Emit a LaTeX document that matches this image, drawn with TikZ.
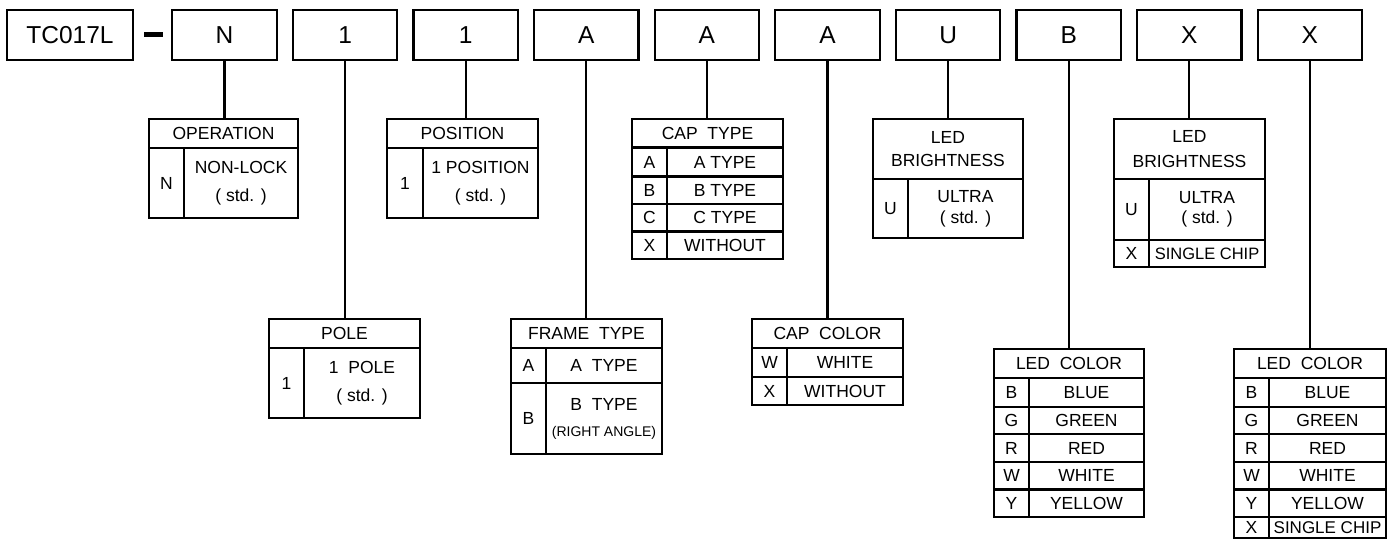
\documentclass[tikz,border=0pt]{standalone}
\usepackage{fontspec}
\setmainfont{Liberation Sans}
\tikzset{
  cell/.style={draw, line width=2.2pt, inner sep=0pt, align=center, font=\fontsize{17.5}{20}\selectfont},
  topbox/.style={draw, line width=2.2pt, inner sep=0pt, minimum width=104.5pt, minimum height=50pt, font=\fontsize{24.5}{28}\selectfont},
  conn/.style={line width=2.2pt},
}
\newcommand\cell[6]{\node[cell, minimum width={#4-#2}, minimum height={#5-#3}] (#1) at ({(#2+#4)/2},{(#3+#5)/2}) {#6};}
\begin{document}
\begin{tikzpicture}[x=1pt,y=-1pt]
\useasboundingbox (0,0) rectangle (1392,539);
% top row
\node[topbox, minimum width=126pt] (tc) at (70,35) {TC017L};
\node[fill, inner sep=0pt, minimum width=19pt, minimum height=4.5pt] (dash) at (153.5,34.5) {};
\node[topbox] (b1) at (224.5,35) {N};
\node[topbox] (b2) at (345.1,35) {1};
\node[topbox] (b3) at (465.7,35) {1};
\node[topbox] (b4) at (586.3,35) {A};
\node[topbox] (b5) at (706.9,35) {A};
\node[topbox] (b6) at (827.5,35) {A};
\node[topbox] (b7) at (948.1,35) {U};
\node[topbox] (b8) at (1068.7,35) {B};
\node[topbox] (b9) at (1189.3,35) {X};
\node[topbox] (b10) at (1309.9,35) {X};
% OPERATION
\cell{op}{149}{119}{298}{148}{OPERATION}
\cell{opk}{149}{148}{184}{218}{N}
\cell{opv}{184}{148}{298}{218}{NON-LOCK\\[8pt]( std. )}
% POLE
\cell{pole}{269}{319}{420}{348}{POLE}
\cell{polek}{269}{348}{304}{418}{1}
\cell{polev}{304}{348}{420}{418}{1~~POLE\\[8pt]( std. )}
% POSITION
\cell{pos}{387}{119}{538}{148}{POSITION}
\cell{posk}{387}{148}{423}{218}{1}
\cell{posv}{423}{148}{538}{218}{1 POSITION\\[8pt]( std. )}
% FRAME TYPE
\cell{frame}{511}{319}{662}{348}{FRAME~~TYPE}
\cell{frak}{511}{348}{546}{383}{A}
\cell{frav}{546}{348}{662}{383}{A~~TYPE}
\cell{frbk}{511}{383}{546}{454}{B}
\cell{frbv}{546}{383}{662}{454}{B~~TYPE\\[6pt]{\fontsize{14}{16}\selectfont (RIGHT ANGLE)}}
% CAP TYPE
\cell{capt}{632}{119}{783}{147.5}{CAP~~TYPE}
\cell{capak}{632}{147.5}{667}{176.5}{A}
\cell{capav}{667}{147.5}{783}{176.5}{A TYPE}
\cell{capbk}{632}{176.5}{667}{204}{B}
\cell{capbv}{667}{176.5}{783}{204}{B TYPE}
\cell{capck}{632}{204}{667}{231.5}{C}
\cell{capcv}{667}{204}{783}{231.5}{C TYPE}
\cell{capxk}{632}{231.5}{667}{259}{X}
\cell{capxv}{667}{231.5}{783}{259}{WITHOUT}
% CAP COLOR
\cell{capc}{752}{319}{903}{348}{CAP~~COLOR}
\cell{ccwk}{752}{348}{787}{377}{W}
\cell{ccwv}{787}{348}{903}{377}{WHITE}
\cell{ccxk}{752}{377}{787}{405}{X}
\cell{ccxv}{787}{377}{903}{405}{WITHOUT}
% LED BRIGHTNESS 1
\cell{br1}{873}{119}{1023}{179}{LED\\[3pt]BRIGHTNESS}
\cell{br1k}{873}{179}{908}{238}{U}
\cell{br1v}{908}{179}{1023}{238}{ULTRA\\[1pt]( std. )}
% LED BRIGHTNESS 2
\cell{br2}{1114}{119}{1265}{179}{LED\\[5pt]BRIGHTNESS}
\cell{br2uk}{1114}{179}{1149}{240}{U}
\cell{br2uv}{1149}{179}{1265}{240}{ULTRA\\[0pt]( std. )}
\cell{br2xk}{1114}{240}{1149}{267}{X}
\cell{br2xv}{1149}{240}{1265}{267}{\fontsize{16.5}{18}\selectfont SINGLE CHIP}
% LED COLOR 1
\cell{lc1}{994}{349}{1144}{378}{LED~~COLOR}
\cell{lc1bk}{994}{378}{1029}{407}{B}
\cell{lc1bv}{1029}{378}{1144}{407}{BLUE}
\cell{lc1gk}{994}{407}{1029}{434}{G}
\cell{lc1gv}{1029}{407}{1144}{434}{GREEN}
\cell{lc1rk}{994}{434}{1029}{462}{R}
\cell{lc1rv}{1029}{434}{1144}{462}{RED}
\cell{lc1wk}{994}{462}{1029}{489.5}{W}
\cell{lc1wv}{1029}{462}{1144}{489.5}{WHITE}
\cell{lc1yk}{994}{489.5}{1029}{517}{Y}
\cell{lc1yv}{1029}{489.5}{1144}{517}{YELLOW}
% LED COLOR 2
\cell{lc2}{1234}{349}{1386}{378}{LED~~COLOR}
\cell{lc2bk}{1234}{378}{1269}{407}{B}
\cell{lc2bv}{1269}{378}{1386}{407}{BLUE}
\cell{lc2gk}{1234}{407}{1269}{434}{G}
\cell{lc2gv}{1269}{407}{1386}{434}{GREEN}
\cell{lc2rk}{1234}{434}{1269}{462}{R}
\cell{lc2rv}{1269}{434}{1386}{462}{RED}
\cell{lc2wk}{1234}{462}{1269}{489.5}{W}
\cell{lc2wv}{1269}{462}{1386}{489.5}{WHITE}
\cell{lc2yk}{1234}{489.5}{1269}{517}{Y}
\cell{lc2yv}{1269}{489.5}{1386}{517}{YELLOW}
\cell{lc2xk}{1234}{517}{1269}{538}{X}
\cell{lc2xv}{1269}{517}{1386}{538}{\fontsize{17}{18}\selectfont SINGLE CHIP}
% connectors
\draw[conn] (b1.south) -- (b1.south |- op.north);
\draw[conn] (b2.south) -- (b2.south |- pole.north);
\draw[conn] (b3.south) -- (b3.south |- pos.north);
\draw[conn] (b4.south) -- (b4.south |- frame.north);
\draw[conn] (b5.south) -- (b5.south |- capt.north);
\draw[conn] (b6.south) -- (b6.south |- capc.north);
\draw[conn] (b7.south) -- (b7.south |- br1.north);
\draw[conn] (b8.south) -- (b8.south |- lc1.north);
\draw[conn] (b9.south) -- (b9.south |- br2.north);
\draw[conn] (b10.south) -- (b10.south |- lc2.north);
\end{tikzpicture}
\end{document}
